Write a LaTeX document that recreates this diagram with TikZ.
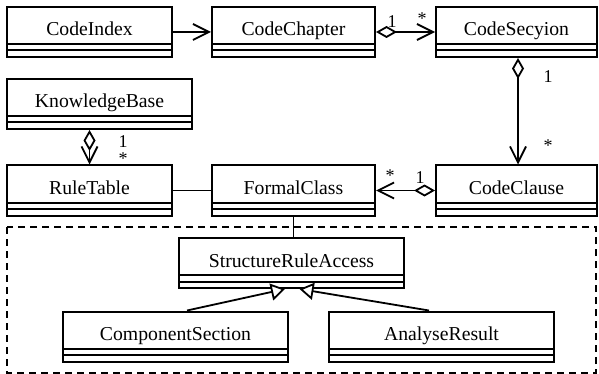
\documentclass[tikz,border=0pt]{standalone}
\usepackage{fontspec}
\setmainfont{Liberation Serif}
\usetikzlibrary{positioning, arrows.meta}

\tikzset{
    umlclass/.style={draw, line width=2pt, minimum height=50pt, inner sep=0pt,
        text height=14pt, text depth=6pt, font=\fontsize{19.7}{22}\selectfont,
        path picture={
            \draw[line width=2pt] ([yshift=13pt]path picture bounding box.south west)
                -- ([yshift=13pt]path picture bounding box.south east);
            \draw[line width=2pt] ([yshift=6.5pt]path picture bounding box.south west)
                -- ([yshift=6.5pt]path picture bounding box.south east);
        }},
    assoc/.style={line width=1.8pt,
        -{Straight Barb[length=16pt,width=16pt,line width=1.8pt]}},
    aggr/.style={line width=1.8pt,
        {Diamond[open,fill=white,length=21pt,width=12pt,line width=1.8pt]}-{Straight Barb[length=16pt,width=16pt,line width=1.8pt]}},
    gener/.style={line width=1.8pt,
        -{Triangle[open,fill=white,length=14pt,width=17pt,line width=1.8pt]}},
    mult/.style={inner sep=0pt, font=\fontsize{18}{20}\selectfont},
    package/.style={line width=1.8pt, dash pattern=on 7pt off 5pt}
}

\begin{document}
\begin{tikzpicture}[x=1pt, y=-1pt]
        \useasboundingbox (0,0) rectangle (599,374);

        % package frame
        \draw[package] (7,227) rectangle (596,373);

        % classes
        \node[umlclass, minimum width=165pt] (idx) at (89.5,32) {CodeIndex};
        \node[umlclass, minimum width=163pt] (chap) at (293.5,32) {CodeChapter};
        \node[umlclass, minimum width=161pt] (sec) at (516.5,32) {CodeSecyion};
        \node[umlclass, minimum width=185pt] (kb) at (99.5,104) {KnowledgeBase};
        \node[umlclass, minimum width=165pt] (rule) at (89.5,190.5) {RuleTable};
        \node[umlclass, minimum width=163pt] (formal) at (293.5,190.5) {FormalClass};
        \node[umlclass, minimum width=161pt] (clause) at (516.5,190.5) {CodeClause};
        \node[umlclass, minimum width=225pt] (sra) at (291.5,263) {StructureRuleAccess};
        \node[umlclass, minimum width=225pt] (comp) at (175.5,336.5) {ComponentSection};
        \node[umlclass, minimum width=225pt] (res) at (441.5,336.5) {AnalyseResult};

        % connectors
        \draw[assoc] (idx.east) -- (chap.west);
        \draw[aggr] (chap.east) -- (sec.west);
        \draw[aggr] ([xshift=1.5pt]sec.south) -- ([xshift=1.5pt]clause.north);
        \draw[aggr] (rule.north |- kb.south) -- (rule.north);
        \draw[aggr] (clause.west) -- (formal.east);
        \draw[line width=1.8pt] (rule.east) -- (formal.west);
        \draw[line width=1.8pt] (formal.south) -- (formal.south |- sra.north);
        \draw[gener] ([xshift=11.5pt]comp.north) -- ([xshift=-6.5pt]sra.south);
        \draw[gener] ([xshift=-12.5pt]res.north) -- ([xshift=8pt]sra.south);

        % multiplicities
        \node[mult] (m1) at (392,22) {1};
        \node[mult] (m2) at (422,19) {*};
        \node[mult] (m3) at (548,77) {1};
        \node[mult] (m4) at (548,146) {*};
        \node[mult] (m5) at (123,142) {1};
        \node[mult] (m6) at (123,159) {*};
        \node[mult] (m7) at (390,176) {*};
        \node[mult] (m8) at (420,178) {1};

    \end{tikzpicture}
\end{document}
